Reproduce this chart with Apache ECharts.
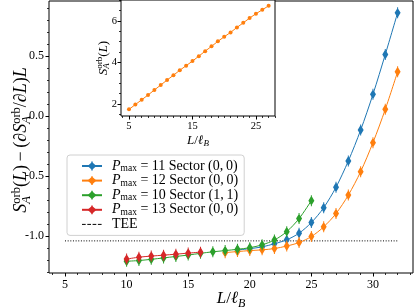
<!DOCTYPE html>
<html><head><meta charset="utf-8">
<script src="https://cdn.jsdelivr.net/npm/echarts@6/dist/echarts.min.js"></script>
<style>html,body{margin:0;padding:0;background:#fff}#c{width:415px;height:308px}</style>
</head><body><div id="c"></div>
<script>
// ---- data ----
const L_blue = [19,20,21,22,23,24,25,26,27,28,29,30,31,32];
const S_blue = [-1.118,-1.107,-1.092,-1.066,-1.033,-0.978,-0.889,-0.765,-0.594,-0.375,-0.117,0.181,0.514,0.861];
const L_orange = [18,19,20,21,22,23,24,25,26,27,28,29,30,31,32];
const S_orange = [-1.140,-1.131,-1.123,-1.117,-1.106,-1.085,-1.056,-1.006,-0.925,-0.814,-0.660,-0.464,-0.222,0.056,0.369];
const L_green = [10,11,12,13,14,15,16,17,18,19,20,21,22,23,24,25];
const S_green = [-1.212,-1.206,-1.196,-1.184,-1.172,-1.160,-1.146,-1.133,-1.123,-1.112,-1.099,-1.075,-1.035,-0.965,-0.856,-0.706];
const L_red = [10,11,12,13,14,15,16];
const S_red = [-1.194,-1.178,-1.169,-1.161,-1.153,-1.144,-1.136];
const TEE = -1.042;
const TEE_L = [5, 32];
const L_inset = [5,6,7,8,9,10,11,12,13,14,15,16,17,18,19,20,21,22,23,24,25,26,27];
const S_inset = [1.74,1.97,2.20,2.43,2.67,2.91,3.15,3.38,3.62,3.84,4.06,4.30,4.54,4.77,5.01,5.23,5.44,5.68,5.90,6.13,6.34,6.53,6.72];
const pmax = [11, 12, 10, 13];
const sectors = ['(0,0)', '(0,0)', '(1,1)', '(0,0)'];
const seriesNames = pmax.map((p, i) => 'Pmax = ' + p + ' Sector ' + sectors[i]);
const colors = ['#1f77b4', '#ff7f0e', '#2ca02c', '#d62728'];
// tick labels
const mainXTicks = [5, 10, 15, 20, 25, 30];
const mainYTicks = [-1.0, -0.5, 0.0, 0.5];
const insetXTicks = [5, 15, 25];
const insetYTicks = [2, 4, 6];

function range(a, b, s) { const r = []; for (let v = a; v <= b + 1e-9; v += s) r.push(Math.round(v * 1000) / 1000); return r; }
const mainXMinor = range(4, 33, 1);
const mainYMinor = range(-1.3, 0.9, 0.1);
const insetXMinor = range(4, 28, 1);
const insetYMinor = range(1.5, 7, 0.5);

const FF = '"Liberation Serif", "DejaVu Serif", serif';
const diamond = 'path://M-0.5,-5.5L0.5,-5.5L0.5,-4.2L3,0L0.5,4.2L0.5,5.5L-0.5,5.5L-0.5,4.2L-3,0L-0.5,-4.2Z';

function zip(a, b) { return a.map((v, i) => [v, b[i]]); }

const mctx = document.createElement('canvas').getContext('2d');
function mathGroup(runs, cx, cy, rot) {
  let x = 0, lastStart = 0, lastEnd = 0; const items = [];
  for (const r of runs) {
    const [t, size, st, shift = 0, stack = false] = r;
    const font = (st === 'i' ? 'italic ' : '') + size + 'px ' + FF;
    mctx.font = font; const w = mctx.measureText(t).width;
    let px;
    if (stack) { px = lastStart; x = Math.max(lastEnd, px + w); }
    else { px = x; lastStart = px; x += w; lastEnd = x; }
    items.push({ t, font, px, shift, size });
  }
  const W = x;
  return {
    type: 'group', x: cx, y: cy, rotation: rot, silent: true,
    children: items.map(it => ({
      type: 'text', x: it.px - W / 2, y: it.shift - 0.3 * it.size,
      style: { text: it.t, font: it.font, fill: '#000', textAlign: 'left', textVerticalAlign: 'middle' }
    }))
  };
}
const B = 18, sb = 12.5;
const yTitleRuns = [
  ['S', B, 'i'], ['orb', sb, 'r', -7], ['A', sb, 'i', 3.5, true], ['(', B], ['L', B, 'i'], [')', B],
  ['\u2009\u2212\u2009', B], ['(', B], ['\u2202', B], ['S', B, 'i'], ['orb', sb, 'r', -7], ['A', sb, 'i', 3.5, true],
  ['/', B], ['\u2202', B], ['L', B, 'i'], [')', B], ['L', B, 'i']
];
const xTitleRuns = [['L', 17, 'i'], ['/', 17], ['\u2113', 17, 'i'], ['B', 12, 'i', 3.5]];
const s2 = 13, ss2 = 9;
const insetYRuns = [['S', s2, 'i'], ['orb', ss2, 'r', -5], ['A', ss2, 'i', 2.5, true], ['(', s2], ['L', s2, 'i'], [')', s2]];
const insetXRuns = [['L', s2, 'i'], ['/', s2], ['\u2113', s2, 'i'], ['B', ss2, 'i', 2.5]];

const chart = echarts.init(document.getElementById('c'), null, { renderer: 'canvas' });

function majorAxis(grid, min, max, ticks, fmt, fs, margin) {
  return {
    gridIndex: grid, type: 'value', min, max,
    axisLine: { show: false, onZero: false }, splitLine: { show: false },
    axisTick: { show: true, length: 3.5, customValues: ticks, lineStyle: { color: '#000', width: 1 } },
    axisLabel: { customValues: ticks, formatter: fmt, fontFamily: FF, fontSize: fs, color: '#000', margin }
  };
}
function minorAxis(grid, min, max, ticks) {
  return {
    gridIndex: grid, type: 'value', min, max,
    axisLine: { show: false, onZero: false }, splitLine: { show: false },
    axisTick: { show: true, length: 2, customValues: ticks, lineStyle: { color: '#000', width: 0.8 } },
    axisLabel: { show: false }
  };
}

const mainRect = { left: 49, top: 1, width: 364, height: 272 };
const insetRect = { left: 121, top: 0, width: 154, height: 116 };

const lineSeries = [
  [L_blue, S_blue], [L_orange, S_orange], [L_green, S_green], [L_red, S_red]
].map((d, i) => ({
  name: seriesNames[i], type: 'line', xAxisIndex: 0, yAxisIndex: 0,
  data: zip(d[0], d[1]), smooth: 0.3, symbol: diamond, symbolSize: 11, symbolKeepAspect: true,
  color: colors[i], lineStyle: { width: 1, color: colors[i] }, itemStyle: { color: colors[i] }, z: 3 + i
}));

const option = {
  animation: false,
  backgroundColor: '#fff',
  textStyle: { fontFamily: FF },
  grid: [
    Object.assign({ show: true, borderColor: '#000', borderWidth: 1, backgroundColor: 'transparent', containLabel: false }, mainRect),
    Object.assign({ show: false }, mainRect),
    Object.assign({ show: true, borderColor: '#000', borderWidth: 1, backgroundColor: '#fff', z: 5 }, insetRect),
    Object.assign({ show: false, z: 5 }, insetRect)
  ],
  xAxis: [
    majorAxis(0, 3.7, 33.25, mainXTicks, v => String(v), 12, 6),
    minorAxis(1, 3.7, 33.25, mainXMinor),
    Object.assign(majorAxis(2, 3.74, 28.0, insetXTicks, v => String(v), 10.5, 5), { z: 6 }),
    Object.assign(minorAxis(3, 3.74, 28.0, insetXMinor), { z: 6 })
  ],
  yAxis: [
    majorAxis(0, -1.31, 0.96, mainYTicks, v => v.toFixed(1), 12, 5),
    minorAxis(1, -1.31, 0.96, mainYMinor),
    Object.assign(majorAxis(2, 1.42, 7.0, insetYTicks, v => String(v), 10.5, 4), { z: 6 }),
    Object.assign(minorAxis(3, 1.42, 7.0, insetYMinor), { z: 6 })
  ],
  legend: {
    left: 67, top: 155, orient: 'vertical',
    data: seriesNames.map(n => ({ name: n })).concat([{
      name: 'TEE', lineStyle: { type: [3.7, 1.6], width: 1, color: '#000' },
      itemStyle: { color: 'rgba(0,0,0,0)', borderWidth: 0, opacity: 0 }
    }]),
    itemWidth: 20, itemHeight: 11, itemGap: 0,
    padding: [4, 6, 4, 14],
    backgroundColor: 'rgba(255,255,255,0.85)', borderColor: '#d0d0d0', borderWidth: 1, borderRadius: 3,
    textStyle: {
      fontFamily: FF, fontSize: 14, color: '#000',
      rich: {
        t: { fontFamily: FF, fontSize: 14, lineHeight: 15.2, color: '#000' },
        i: { fontFamily: FF, fontSize: 14, lineHeight: 15.2, fontStyle: 'italic', color: '#000', padding: [0, 0, 0, 5] },
        s: { fontFamily: FF, fontSize: 9.5, lineHeight: 9, verticalAlign: 'bottom', color: '#000' },
        tee: { fontFamily: FF, fontSize: 14, lineHeight: 15.2, color: '#000', padding: [0, 0, 0, 5] }
      }
    },
    formatter: function (name) {
      const i = seriesNames.indexOf(name);
      if (i < 0) return '{tee|' + name + '}';
      const sec = sectors[i].replace(',', ',\u2009');
      return '{i|P}{s|max}{t| = ' + pmax[i] + ' Sector ' + sec + '}';
    }
  },
  series: lineSeries.concat([
    {
      name: 'TEE', type: 'line', xAxisIndex: 0, yAxisIndex: 0,
      data: TEE_L.map(l => [l, TEE]), symbol: 'none', color: '#000',
      lineStyle: { type: [1, 1.65], width: 1, color: '#000' }, z: 2
    },
    {
      name: 'inset', type: 'line', xAxisIndex: 2, yAxisIndex: 2,
      data: zip(L_inset, S_inset), symbol: 'circle', symbolSize: 4,
      color: '#ff7f0e', lineStyle: { width: 1, color: '#ff7f0e' }, itemStyle: { color: '#ff7f0e' }, z: 7
    }
  ]),
  graphic: [
    mathGroup(yTitleRuns, 27, 140, Math.PI / 2),
    mathGroup(xTitleRuns, 231, 304, 0),
    mathGroup(insetYRuns, 107, 58, Math.PI / 2),
    mathGroup(insetXRuns, 198, 144, 0)
  ]
};
chart.setOption(option);
</script>
</body></html>
